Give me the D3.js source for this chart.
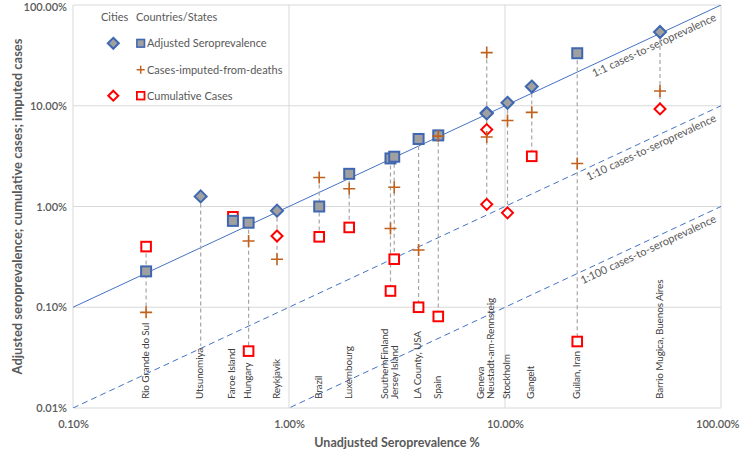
<!DOCTYPE html>
<html><head><meta charset="utf-8">
<script src="https://cdnjs.cloudflare.com/ajax/libs/d3/7.8.5/d3.min.js"></script>
<style>body{margin:0;background:#fff}svg{display:block}text{font-family:Lato,"Open Sans",sans-serif}</style>
</head><body><svg id="c" width="740" height="452"></svg>
<script>
// ---------- data ----------
const locations = ["Rio Grande do Sul","Utsunomiya","Faroe Island","Hungary","Reykjavik","Brazil","Luxembourg","Southern Finland","Jersey Island","LA County, USA","Spain","Geneva","Neustadt-am-Rennsteig","Stockholm","Gangelt","Guilan, Iran","Barrio Mugica, Buenos Aires"];
const unadjusted = [0.218,0.39,0.55,0.65,0.88,1.38,1.90,2.95,3.07,3.98,4.91,8.23,8.23,10.27,13.3,21.6,52.2];
const adjusted   = [0.227,1.26,0.72,0.69,0.91,1.0,2.11,3.0,3.12,4.68,5.08,8.5,8.4,10.7,15.5,33.2,54.0];
const imputed    = [0.089,null,null,0.454,0.30,1.94,1.50,0.605,1.55,0.37,5.0,4.9,33.7,7.15,8.6,2.67,14.0];
const cumulative = [0.40,null,0.79,0.0367,0.51,0.50,0.62,0.145,0.30,0.10,0.081,1.05,5.8,0.865,3.15,0.0457,9.3];
const adjShape   = ["square","diamond","square","square","diamond","square","square","square","square","square","square","diamond","diamond","diamond","diamond","square","diamond"];
const cumShape   = ["square",null,"square","square","diamond","square","square","square","square","square","square","diamond","diamond","diamond","square","square","diamond"];
const labelLines = [["Rio Grande do Sul"],["Utsunomiya"],["Faroe Island"],["Hungary"],["Reykjavik"],["Brazil"],["Luxembourg"],["SouthernFinland","Jersey Island"],[],["LA County, USA"],["Spain"],["Geneva","Neustadt-am-Rennsteig"],[],["Stockholm"],["Gangelt"],["Guilan, Iran"],["Barrio Mugica, Buenos Aires"]];
const xTicks = [0.1,1,10,100];
const yTicks = [0.01,0.1,1,10,100];
const refRatios = [1,10,100];
const refLabels = ["1:1 cases-to-seroprevalence","1:10 cases-to-seroprevalence","1:100 cases-to-seroprevalence"];
const xTitle = "Unadjusted Seroprevalence %";
const yTitle = "Adjusted seroprevalence; cumulative cases; imputed cases";
const legendHeaders = ["Cities","Countries/States"];
const legendItems = ["Adjusted Seroprevalence","Cases-imputed-from-deaths","Cumulative Cases"];

// ---------- layout ----------
const svg = d3.select("#c");
const L=73,R=721,T=5,B=408;
const x = d3.scaleLog().domain([0.1,100]).range([L,R]);
const y = d3.scaleLog().domain([0.01,100]).range([B,T]);
const BLUE="#4472C4", RED="#FF0000", BROWN="#C0611E", GRID="#D9D9D9", TXT="#595959";

// gridlines
svg.append("g").selectAll("line").data(xTicks).join("line")
  .attr("x1",d=>x(d)).attr("x2",d=>x(d)).attr("y1",T).attr("y2",B)
  .attr("stroke",GRID).attr("stroke-width",1);
svg.append("g").selectAll("line").data(yTicks).join("line")
  .attr("y1",d=>y(d)).attr("y2",d=>y(d)).attr("x1",L).attr("x2",R)
  .attr("stroke",GRID).attr("stroke-width",1);

// axes
const fmt = d=>d.toFixed(2)+"%";
const ax = svg.append("g").attr("transform",`translate(0,${B})`)
  .call(d3.axisBottom(x).tickValues(xTicks).tickFormat(fmt).tickSize(0).tickPadding(12));
const ay = svg.append("g").attr("transform",`translate(${L},0)`)
  .call(d3.axisLeft(y).tickValues(yTicks).tickFormat(fmt).tickSize(0).tickPadding(6));
[ax,ay].forEach(g=>{g.select(".domain").remove();
  g.selectAll("text").attr("fill",TXT).style("font-size","11px").style("font-weight","600").style("font-family","Lato,sans-serif");});
// keep edge labels inside the picture
ax.selectAll(".tick").filter(d=>d===100).select("text").attr("text-anchor","end").attr("x",18);
ay.selectAll(".tick").filter(d=>d===100).select("text").attr("y",1.5);

// titles
svg.append("text").attr("x",(L+R)/2).attr("y",447).attr("text-anchor","middle")
  .attr("fill",TXT).style("font-size","12.5px").style("font-weight","bold").text(xTitle);
svg.append("text").attr("transform",`translate(17,${(T+B)/2}) rotate(-90)`).attr("text-anchor","middle")
  .attr("dy","0.35em").attr("fill",TXT).style("font-size","13px").style("font-weight","bold").text(yTitle);

// clip
svg.append("clipPath").attr("id","pc").append("rect").attr("x",L).attr("y",T).attr("width",R-L).attr("height",B-T);

// reference lines
const refG = svg.append("g").attr("clip-path","url(#pc)");
refRatios.forEach((r,i)=>{
  refG.append("line").attr("x1",x(0.1)).attr("y1",y(0.1/r)).attr("x2",x(100)).attr("y2",y(100/r))
    .attr("stroke",BLUE).attr("stroke-width",1)
    .attr("stroke-dasharray", i===0? null : "6,4");
});
const ang = Math.atan2(y(0.1)-y(100), x(100)-x(0.1))*180/Math.PI;
refRatios.forEach((r,i)=>{
  const xv = x.invert(712);
  svg.append("text").attr("transform",`translate(712,${y(xv/r)}) rotate(${-ang})`)
    .attr("text-anchor","end").attr("dy",12).attr("fill",TXT).style("font-size","11px").text(refLabels[i]);
});

// labels (measure for drop lines)
const labG = svg.append("g");
const labelTop = {};
labelLines.forEach((lines,i)=>{
  if(!lines.length) return;
  const t = labG.append("text").attr("transform",`translate(${x(unadjusted[i])-1},399) rotate(-90)`)
    .attr("fill","#404040").style("font-size","10px").style("letter-spacing","-0.15px");
  lines.forEach((s,j)=>{
    t.append("tspan").attr("x",0).attr("y",(j-(lines.length-1)/2)*10).attr("dy","0.35em").text(s);
  });
  const bb = t.node().getBBox();
  labelTop[i] = 399 - bb.width;
});

// vertical dashed drop lines
const dropG = svg.append("g");
locations.forEach((n,i)=>{
  const vals=[adjusted[i],imputed[i],cumulative[i]].filter(v=>v!=null);
  const top=y(d3.max(vals));
  let bot=y(d3.min(vals));
  if(vals.length===1 && labelTop[i]!=null) bot = labelTop[i]-2;
  dropG.append("line").attr("x1",x(unadjusted[i])).attr("x2",x(unadjusted[i]))
    .attr("y1",top).attr("y2",bot).attr("stroke","#A6A6A6").attr("stroke-width",1.2).attr("stroke-dasharray","4,3");
});

// marker helpers
function marker(g, shape, cx, cy, size, fill, stroke, sw){
  if(shape==="diamond"){
    g.append("path").attr("d",`M${cx},${cy-size}L${cx+size},${cy}L${cx},${cy+size}L${cx-size},${cy}Z`)
      .attr("fill",fill).attr("stroke",stroke).attr("stroke-width",sw);
  } else if(shape==="square"){
    g.append("rect").attr("x",cx-size).attr("y",cy-size).attr("width",2*size).attr("height",2*size)
      .attr("fill",fill).attr("stroke",stroke).attr("stroke-width",sw);
  } else if(shape==="plus"){
    g.append("path").attr("d",`M${cx-size},${cy}H${cx+size}M${cx},${cy-size}V${cy+size}`)
      .attr("stroke",stroke).attr("stroke-width",sw).attr("fill","none");
  }
}
const mg = svg.append("g");
locations.forEach((n,i)=>{
  if(cumulative[i]!=null) marker(mg, cumShape[i], x(unadjusted[i]), y(cumulative[i]), cumShape[i]==="diamond"?5.5:4.8, "#fff", RED, 2);
});
locations.forEach((n,i)=>{
  marker(mg, adjShape[i], x(unadjusted[i]), y(adjusted[i]), adjShape[i]==="diamond"?6:5, "#A0A0A0", "#3F67B1", 2);
});
locations.forEach((n,i)=>{
  if(imputed[i]!=null) marker(mg, "plus", x(unadjusted[i]), y(imputed[i]), 6, null, BROWN, 1.6);
});

// legend
const lg = svg.append("g");
lg.append("text").attr("x",101).attr("y",17).attr("dy","0.35em").attr("fill",TXT).style("font-size","11px").text(legendHeaders[0]);
lg.append("text").attr("x",136).attr("y",17).attr("dy","0.35em").attr("fill",TXT).style("font-size","11px").text(legendHeaders[1]);
const rows=[43.3,69.7,95.7];
marker(lg,"diamond",113.3,rows[0],5.5,"#A0A0A0","#3F67B1",2);
marker(lg,"square",140.7,rows[0],3.8,"#A0A0A0","#3F67B1",1.6);
marker(lg,"plus",140.7,rows[1],4,null,BROWN,1.5);
marker(lg,"diamond",113.3,rows[2],5,"#fff",RED,2);
marker(lg,"square",140.7,rows[2],3.8,"#fff",RED,1.8);
legendItems.forEach((s,i)=>{
  lg.append("text").attr("x",147).attr("y",rows[i]).attr("dy","0.35em").attr("fill",TXT).style("font-size","11px").text(s);
});
</script></body></html>
